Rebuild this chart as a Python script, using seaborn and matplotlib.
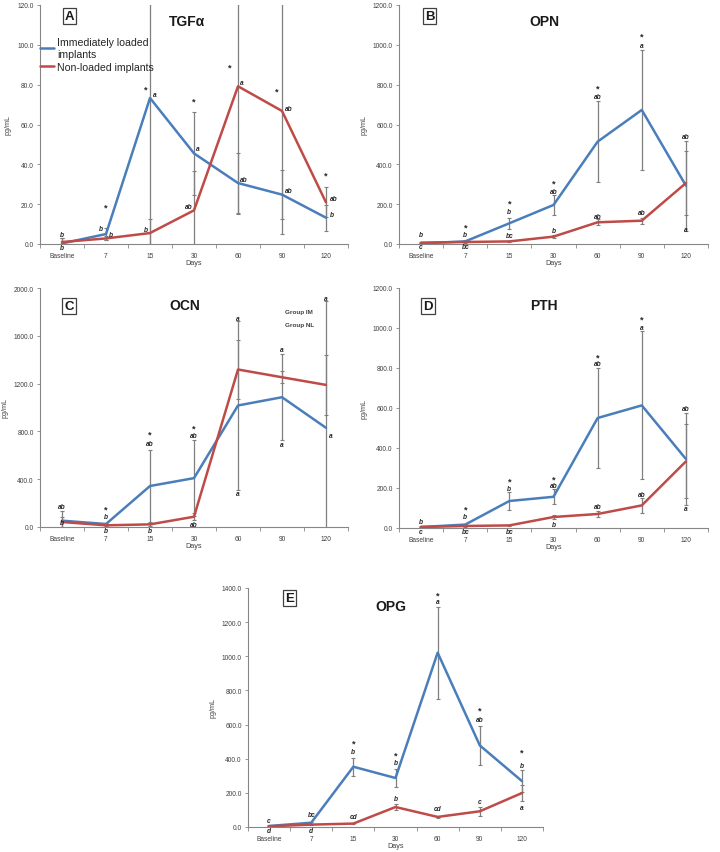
import numpy as np
import pandas as pd
import matplotlib
matplotlib.use("Agg")
import matplotlib.pyplot as plt
import seaborn as sns

# --- data ---
days = ["Baseline", "7", "15", "30", "60", "90", "120"]
groups = ["Immediately loaded\nimplants", "Non-loaded implants"]

# A: TGF-alpha
tgf_im = [0.3, 5.0, 73.3, 45.5, 30.6, 24.8, 13.2]
tgf_nl = [1.0, 2.8, 5.5, 16.9, 79.2, 66.8, 20.9]
tgf_im_sd = [2.5, 3.0, 80.0, 21.0, 15.0, 12.3, 6.5]
tgf_nl_sd = [2.0, 1.0, 7.0, 19.6, 64.0, 62.0, 7.5]
tgf_letters = [(0, 5, "b", 0), (0, -1.6, "b", 0),
               (1, 7.8, "b", -0.11), (1, 5, "b", 0.11), (1, 18.5, "*", 0),
               (2, 77.8, "*", -0.1), (2, 75.3, "a", 0.1), (2, 7.5, "b", -0.1),
               (3, 72, "*", 0), (3, 47.7, "a", 0.08), (3, 18.7, "ab", -0.12),
               (4, 89, "*", -0.19), (4, 81, "a", 0.09), (4, 32.6, "ab", 0.14),
               (5, 76.6, "*", -0.13), (5, 67.8, "ab", 0.16), (5, 27.1, "ab", 0.15),
               (6, 34.8, "*", 0), (6, 23, "ab", 0.17), (6, 14.7, "b", 0.13)]

# B: OPN
opn_im = [3, 13, 104, 196, 514, 673, 293]
opn_nl = [7, 10, 13, 37, 109, 117, 306]
opn_im_sd = [3, 5, 27, 48, 205, 300, 226]
opn_nl_sd = [2, 3, 4, 6, 15, 15, 160]
opn_letters = [(0, 47, "b", 0), (0, -15, "c", 0),
               (1, 87, "*", 0), (1, 48, "b", 0), (1, -15, "bc", 0),
               (2, 206, "*", 0), (2, 162, "b", 0), (2, 42, "bc", 0),
               (3, 305, "*", 0), (3, 266, "ab", 0), (3, 70, "b", 0),
               (4, 782, "*", 0), (4, 743, "ab", 0), (4, 139, "ab", 0),
               (5, 1043, "*", 0), (5, 996, "a", 0), (5, 157, "ab", 0),
               (6, 540, "ab", 0), (6, 72, "a", 0)]

# C: OCN
ocn_im = [53, 25, 343, 409, 1017, 1086, 830]
ocn_nl = [42, 14, 22, 86, 1318, 1253, 1189]
ocn_im_sd = [80, 10, 298, 315, 705, 362, 1064]
ocn_nl_sd = [40, 8, 10, 30, 243, 50, 252]
ocn_letters = [(0, 173, "ab", 0), (0, 35, "b", 0),
               (1, 148, "*", 0), (1, 84, "b", 0), (1, -30, "b", 0),
               (2, 774, "*", 0), (2, 696, "ab", 0), (2, -30, "b", 0),
               (3, 830, "*", 0), (3, 766, "ab", 0), (3, 25, "ab", 0),
               (4, 1741, "a", 0), (4, 279, "a", 0),
               (5, 1482, "a", 0), (5, 691, "a", 0),
               (6, 1914, "a", 0), (6, 766, "a", 0.1)]

# D: PTH
pth_im = [5, 17, 135, 156, 550, 613, 345]
pth_nl = [5, 10, 13, 55, 70, 113, 333]
pth_im_sd = [3, 5, 45, 37, 252, 370, 231]
pth_nl_sd = [2, 3, 3, 10, 15, 38, 185]
pth_letters = [(0, 33, "b", 0), (0, -18, "c", 0),
               (1, 95, "*", 0), (1, 55, "b", 0), (1, -18, "bc", 0),
               (2, 233, "*", 0), (2, 196, "b", 0), (2, -18, "bc", 0),
               (3, 245, "*", 0), (3, 213, "ab", 0), (3, 15, "b", 0),
               (4, 857, "*", 0), (4, 824, "ab", 0), (4, 107, "ab", 0),
               (5, 1045, "*", 0), (5, 1002, "a", 0), (5, 167, "ab", 0),
               (6, 595, "ab", 0), (6, 95, "a", 0)]

# E: OPG
opg_im = [6, 25, 353, 287, 1021, 478, 269]
opg_nl = [4, 14, 20, 117, 59, 92, 199]
opg_im_sd = [3, 6, 52, 52, 270, 115, 65]
opg_nl_sd = [2, 3, 4, 20, 8, 27, 48]
opg_letters = [(0, 39, "c", 0), (0, -21, "d", 0),
               (1, 72, "bc", 0), (1, -21, "d", 0),
               (2, 494, "*", 0), (2, 443, "b", 0), (2, 59, "cd", 0),
               (3, 424, "*", 0), (3, 377, "b", 0), (3, 166, "b", 0),
               (4, 1357, "*", 0), (4, 1318, "a", 0), (4, 107, "cd", 0),
               (5, 683, "*", 0), (5, 629, "ab", 0), (5, 152, "c", 0),
               (6, 439, "*", 0), (6, 361, "b", 0), (6, 117, "a", 0)]

BLUE = "#4a7ebb"
RED = "#be4b48"
GREY = "#7f7f7f"
TXT = "#404040"

sns.set_theme(style="white")
plt.rcParams["font.family"] = ["Liberation Sans", "DejaVu Sans"]


def draw_panel(ax, im, nl, im_sd, nl_sd, ymax, ystep, letters, tag, title,
               tag_pos, title_pos):
    x = np.arange(len(days))
    df = pd.DataFrame({
        "day": np.tile(x, 2),
        "value": list(im) + list(nl),
        "group": np.repeat(groups, len(days)),
    })
    # error bars first so the lines sit on top
    for mean, sd in ((im, im_sd), (nl, nl_sd)):
        ax.errorbar(x, mean, yerr=sd, fmt="none", ecolor=GREY, elinewidth=0.9,
                    capsize=1.5, capthick=0.8, zorder=1)
    sns.lineplot(data=df, x="day", y="value", hue="group", palette=[BLUE, RED],
                 linewidth=1.8, ax=ax, legend=(tag == "A"), zorder=2)

    ax.set_xlim(-0.5, len(days) - 0.5)
    ax.set_ylim(0, ymax)
    ax.set_yticks(np.arange(0, ymax + 0.1, ystep))
    ax.yaxis.set_major_formatter(matplotlib.ticker.FormatStrFormatter("%.1f"))
    ax.set_xticks(x)
    ax.set_xticklabels(days)
    ax.set_xticks(np.arange(-0.5, len(days)), minor=True)
    ax.tick_params(axis="x", which="major", length=0, labelsize=4.8,
                   labelcolor=TXT, pad=6)
    ax.tick_params(axis="x", which="minor", length=3, width=0.6,
                   color="#868686", direction="out", bottom=True)
    ax.tick_params(axis="y", length=2.5, width=0.6, color="#868686",
                   direction="out", left=True, labelsize=4.8, labelcolor=TXT,
                   pad=2)
    for side in ("top", "right"):
        ax.spines[side].set_visible(False)
    for side in ("left", "bottom"):
        ax.spines[side].set_color("#868686")
        ax.spines[side].set_linewidth(0.8)

    ax.set_xlabel("Days", fontsize=5.2, color=TXT, labelpad=0)
    ax.set_ylabel("pg/mL", fontsize=5.2, color=TXT, labelpad=4)

    for i, y, t, dx in letters:
        if t == "*":
            ax.text(i + dx, y, t, ha="center", va="center", fontsize=6.5,
                    fontweight="bold", color="#262626")
        else:
            ax.text(i + dx, y, t, ha="center", va="center", fontsize=4.8,
                    fontweight="bold", style="italic", color="#262626")

    ax.text(tag_pos[0], tag_pos[1], tag, transform=ax.transAxes, ha="center",
            va="center", fontsize=9.5, fontweight="bold", color="#1a1a1a",
            bbox=dict(boxstyle="square,pad=0.15", fc="white", ec="#404040",
                      lw=0.9))
    ax.text(title_pos[0], title_pos[1], title, transform=ax.transAxes,
            ha="center", va="center", fontsize=10, fontweight="bold",
            color="#1a1a1a")


fig = plt.figure(figsize=(7.2, 8.53), dpi=100)
W, H = 720.0, 853.0


def axes_at(left, top, right, bottom):
    return fig.add_axes([left / W, 1 - bottom / H, (right - left) / W,
                         (bottom - top) / H])


ax_a = axes_at(40, 6, 348, 245)
ax_b = axes_at(399, 6, 708, 245)
ax_c = axes_at(40, 289, 348, 528)
ax_d = axes_at(399, 289, 708, 529)
ax_e = axes_at(248, 589, 543, 828)

draw_panel(ax_a, tgf_im, tgf_nl, tgf_im_sd, tgf_nl_sd, 120, 20, tgf_letters,
           "A", "TGF\u03b1", (0.096, 0.955), (0.477, 0.933))
draw_panel(ax_b, opn_im, opn_nl, opn_im_sd, opn_nl_sd, 1200, 200, opn_letters,
           "B", "OPN", (0.099, 0.955), (0.47, 0.934))
draw_panel(ax_c, ocn_im, ocn_nl, ocn_im_sd, ocn_nl_sd, 2000, 400, ocn_letters,
           "C", "OCN", (0.094, 0.926), (0.47, 0.93))
draw_panel(ax_d, pth_im, pth_nl, pth_im_sd, pth_nl_sd, 1200, 200, pth_letters,
           "D", "PTH", (0.094, 0.926), (0.47, 0.93))
draw_panel(ax_e, opg_im, opg_nl, opg_im_sd, opg_nl_sd, 1400, 200, opg_letters,
           "E", "OPG", (0.142, 0.96), (0.485, 0.925))

# legend in panel A
leg = ax_a.legend(loc="upper left", bbox_to_anchor=(0.0, 0.865), frameon=False,
                  fontsize=7.6, handlelength=1.3, handletextpad=0.3,
                  borderaxespad=0, borderpad=0, labelspacing=0.25)
for txt in leg.get_texts():
    txt.set_color("#262626")

# leftover legend text in panel C
ax_c.text(5.07, 1805, "Group IM", ha="left", va="center", fontsize=4.6,
          fontweight="bold", color=TXT)
ax_c.text(5.07, 1691, "Group NL", ha="left", va="center", fontsize=4.6,
          fontweight="bold", color=TXT)

fig.savefig("out.png", dpi=100, facecolor="white")
